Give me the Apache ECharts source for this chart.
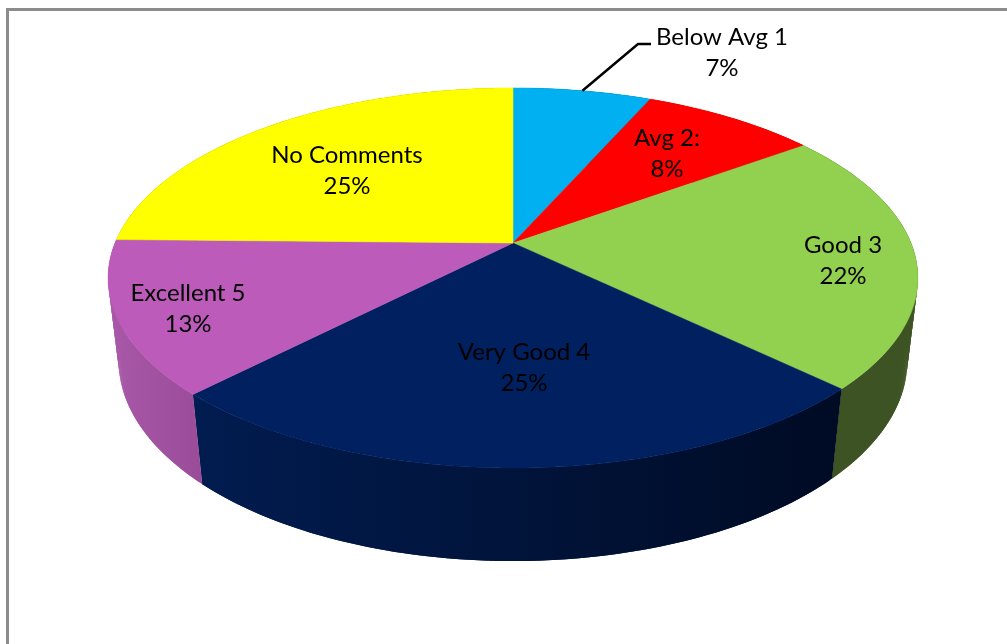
<!DOCTYPE html>
<html>
<head>
<meta charset="utf-8">
<style>html,body{margin:0;padding:0;background:#fff}#chart{width:1007px;height:644px}</style>
<script src="https://cdn.jsdelivr.net/npm/echarts@6/dist/echarts.min.js"></script>
</head>
<body>
<div id="chart"></div>
<script>
// Data
var categories = ['Below Avg 1', 'Avg 2:', 'Good 3', 'Very Good 4', 'Excellent 5', 'No Comments'];
var values = [6.6, 8.4, 22.2, 25.1, 13, 24.7];

// Styles
var topColors = ['#00b0f0', '#ff0000', '#92d050', '#002060', '#bc5bba', '#ffff00'];
var wallRight = ['#006a90', '#990000', '#3d5323', '#000b24', '#9a4c99', '#999900'];
var wallLeft  = ['#006a90', '#990000', '#3d5323', '#011c50', '#a858a8', '#999900'];

// Layout: perspective projection of the pie, label centres
var cx = 513, cy = 243, A = 398, B = 183.6, K = 0.184, C = 0.026, D = 84.2;
var labelCentres = [[722, 53], [667, 154], [843, 261], [524, 368], [188, 309], [347, 171]];
var labelFont = '24px Lato, Carlito, "Open Sans", sans-serif';
var leaderElbow = [638, 44], leaderEnd = [651, 44];

var total = values.reduce(function (a, b) { return a + b; }, 0);
var starts = [];
values.reduce(function (acc, v, i) { starts[i] = acc; return acc + v; }, 0);

function project(theta, z) {
  var u = Math.sin(theta), v = Math.cos(theta);
  var w = 1 + K * v + C * z;
  return [cx + A * u / w, cy + (-B * v + D * z) / w];
}
function angle(p) { return p / total * Math.PI * 2; }

function renderWall(params) {
  var i = params.dataIndex;
  var a0 = angle(starts[i]), a1 = angle(starts[i] + values[i]);
  var n = Math.max(24, Math.ceil(values[i] * 6));
  var step = (a1 - a0) / n;
  var xs = [];
  for (var s = 0; s <= n; s++) { xs.push(project(a0 + step * s, 0)[0]); xs.push(project(a0 + step * s, 1)[0]); }
  var fill = new echarts.graphic.LinearGradient(
    Math.min.apply(null, xs), 0, Math.max.apply(null, xs), 0,
    [{ offset: 0, color: wallLeft[i] }, { offset: 1, color: wallRight[i] }], true);
  var kids = [];
  for (s = 0; s < n; s++) {
    var t0 = a0 + step * s, t1 = a0 + step * Math.min(n, s + 2);
    kids.push({
      type: 'polygon',
      shape: { points: [project(t0, 0), project(t1, 0), project(t1, 1), project(t0, 1)] },
      style: { fill: fill, stroke: null }
    });
  }
  return { type: 'group', children: kids };
}

function renderTop(params) {
  var i = params.dataIndex;
  var a0 = angle(starts[i]), a1 = angle(starts[i] + values[i]);
  var n = Math.max(12, Math.ceil(values[i] * 5));
  var pts = [[cx, cy]];
  for (var s = 0; s <= n; s++) pts.push(project(a0 + (a1 - a0) * s / n, 0));
  return { type: 'polygon', shape: { points: pts }, style: { fill: topColors[i], stroke: topColors[i], lineWidth: 0.5 } };
}

function renderLabel(params) {
  var i = params.dataIndex;
  var kids = [{
    type: 'text',
    x: labelCentres[i][0], y: labelCentres[i][1],
    style: {
      text: categories[i] + '\n' + Math.round(values[i] / total * 100) + '%',
      font: labelFont, fill: '#000', align: 'center', verticalAlign: 'middle', lineHeight: 31
    }
  }];
  if (i === 0) {
    var p = project(angle(starts[i] + values[i] / 2), 0);
    kids.push({
      type: 'polyline',
      shape: { points: [p, leaderElbow, leaderEnd] },
      style: { stroke: '#000', lineWidth: 2.5, fill: null }
    });
  }
  return { type: 'group', children: kids };
}

var ids = categories.map(function (c, i) { return [i, values[i]]; });
var chart = echarts.init(document.getElementById('chart'), null, { renderer: 'canvas' });
chart.setOption({
  animation: false,
  backgroundColor: '#fff',
  tooltip: { show: false },
  graphic: [{
    type: 'rect', silent: true, z: 0,
    shape: { x: 7.5, y: 9.5, width: 1100, height: 800 },
    style: { fill: '#fff', stroke: '#8c8c8c', lineWidth: 3 }
  }],
  series: [
    { type: 'custom', coordinateSystem: 'none', silent: true, z: 2, data: ids, renderItem: renderWall },
    { type: 'custom', coordinateSystem: 'none', silent: true, z: 3, data: ids, renderItem: renderTop },
    { type: 'custom', coordinateSystem: 'none', silent: true, z: 4, data: ids, renderItem: renderLabel }
  ]
});
</script>
</body>
</html>
